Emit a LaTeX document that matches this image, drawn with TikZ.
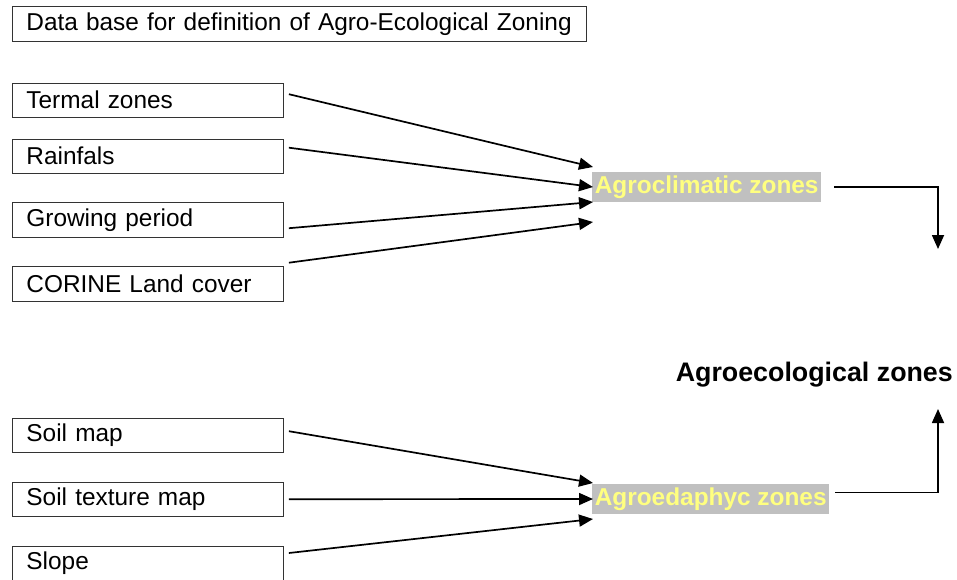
\documentclass[tikz,border=0pt]{standalone}
\usepackage{fontspec}
\setmainfont{Liberation Sans}
\usetikzlibrary{arrows.meta,calc}
\definecolor{zonegray}{HTML}{C0C0C0}
\definecolor{zoneyellow}{HTML}{FFFF80}
\tikzset{
  every picture/.style={x=1pt,y=-1pt},
  framed/.style={draw=black!80, line width=0.9pt, minimum height=34.5pt,
    inner xsep=0pt, align=left, anchor=north west,
    execute at begin node={\hspace*{14pt}},
    font=\fontsize{24.4}{29}\selectfont},
  layerbox/.style={framed, text width=271pt},
  zonelabel/.style={fill=zonegray, text=zoneyellow, inner sep=1pt,
    font=\fontsize{24.4}{28}\selectfont\bfseries, anchor=west},
  link/.style={line width=1.7pt, -{Triangle[length=14pt,width=12pt]}},
}
\begin{document}
\begin{tikzpicture}
\useasboundingbox (0,0) rectangle (957,579);
\fill[white] (0,0) rectangle (957,579);

% title
\node[framed, text width=574pt] (title) at (12,6)
  {Data base for definition of Agro-Ecological Zoning};

% climate inputs
\node[layerbox] (termal) at (12,82.5) {Termal zones};
\node[layerbox] (rain)   at (12,138.5) {Rainfals};
\node[layerbox] (grow)   at (12,202) {Growing period};
\node[layerbox] (corine) at (12,266) {CORINE Land cover};

% soil inputs
\node[layerbox] (soil)    at (12,417.5) {Soil map};
\node[layerbox] (texture) at (12,481.5) {Soil texture map};
\node[layerbox, minimum height=38pt, text depth=10pt] (slope) at (12,546) {Slope};

% intermediate zones
\node[zonelabel, minimum height=30pt, minimum width=229pt]
  (clim) at (592,187) {Agroclimatic zones};
\node[zonelabel, minimum height=30pt, minimum width=237pt]
  (edaph) at (592,499) {Agroedaphyc zones};

% result
\node[font=\fontsize{26.8}{30}\selectfont\bfseries, anchor=east, inner sep=0pt]
  (agro) at (953,375) {Agroecological zones};

% arrow ends
\coordinate (c1) at (593,167);
\coordinate (c2) at (593,187);
\coordinate (c3) at (593,202);
\coordinate (c4) at (593,222);
\coordinate (e1) at (593,483);
\coordinate (e2) at (593,499);
\coordinate (e3) at (593,519);
\coordinate (down) at (938,249);
\coordinate (up) at (938,409);

\draw[link] ([shift={(5,-6)}]termal.east) -- (c1);
\draw[link] ([shift={(5,-8.5)}]rain.east) -- (c2);
\draw[link] ([shift={(5,8.5)}]grow.east) -- (c3);
\draw[link] ([shift={(5,-21)}]corine.east) -- (c4);

\draw[link] ([shift={(5,-4)}]soil.east) -- (e1);
\draw[link] ([shift={(5,0)}]texture.east) -- (e2);
\draw[link] ([shift={(5,-6)}]slope.east |- 0,559) -- (e3);

\draw[link] ([xshift=13pt]clim.east) -- (down |- clim.east) -- (down);
\draw[link] ([xshift=6pt]edaph.east |- 0,492.5) -- (up |- 0,492.5) -- (up);
\end{tikzpicture}
\end{document}
